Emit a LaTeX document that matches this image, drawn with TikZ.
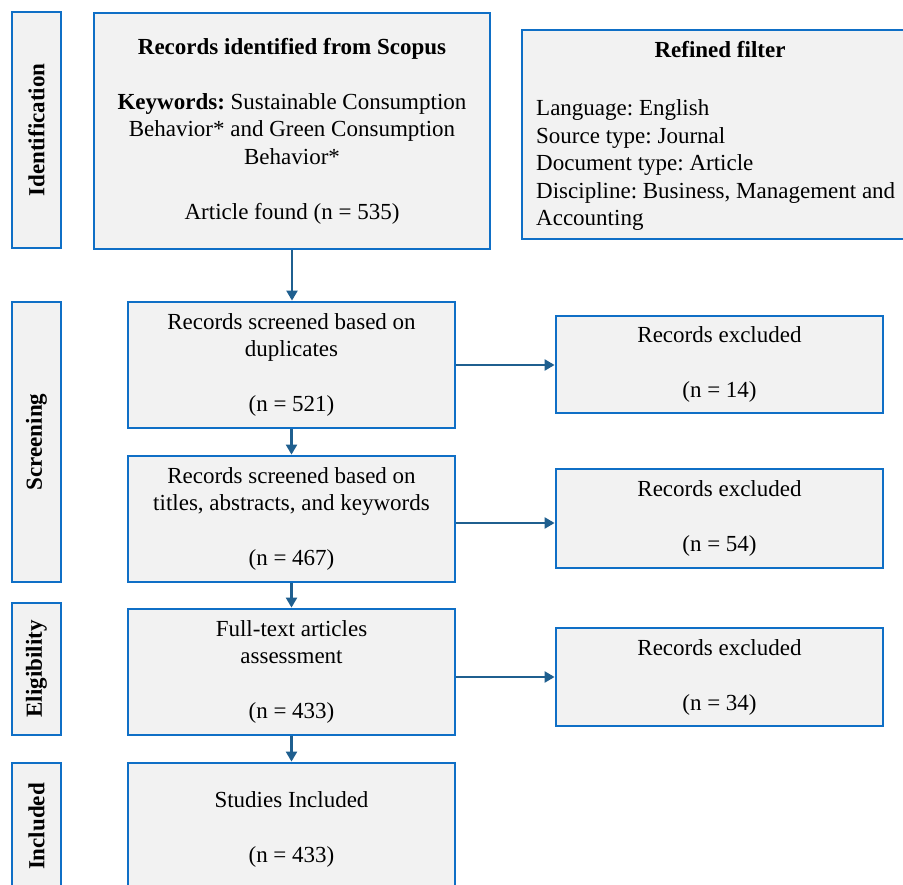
\documentclass[tikz,border=0pt]{standalone}
\usepackage{fontspec}
\setmainfont{Liberation Serif}
\usetikzlibrary{arrows.meta}
\definecolor{bordblue}{HTML}{0F6FC6}
\definecolor{arrblue}{HTML}{1F5F8F}
\definecolor{boxfill}{HTML}{F2F2F2}
\frenchspacing
\begin{document}
\begin{tikzpicture}[x=1pt,y=-1pt,
  box/.style={draw=bordblue, fill=boxfill, line width=2.8pt, inner sep=0pt, align=center, font=\fontsize{23}{27.5}\selectfont},
  stagebox/.style={box, font=\fontsize{23}{27.5}\selectfont\bfseries, rotate=90},
  arr/.style={draw=arrblue, line width=2.2pt, -{Triangle[length=10pt,width=11pt]}},
  txt/.style={inner sep=0pt, font=\fontsize{23}{27.5}\selectfont}]
\clip (0,0) rectangle (903,885);
\fill[white] (0,0) rectangle (903,885);
% stage labels
\node[stagebox, minimum width=236pt, minimum height=49pt] (sid) at (36.5,130) {Identification};
\node[stagebox, minimum width=280pt, minimum height=49pt] (sscr) at (36.5,442) {Screening};
\node[stagebox, minimum width=132pt, minimum height=49pt] (selig) at (36.5,669) {Eligibility};
\node[stagebox, minimum width=127pt, minimum height=49pt] (sinc) at (36.5,826.5) {Included};
% main flow
\node[box, minimum width=396pt, minimum height=236pt] (main) at (292,131)
  {{\bfseries Records identified from Scopus}\\[27.5pt]
   {\bfseries Keywords:} Sustainable Consumption\\
   Behavior* and Green Consumption\\
   Behavior*\\[27.5pt]
   Article found (n = 535)};
\node[box, minimum width=396pt, minimum height=209pt] (refined) at (720,134.5) {};
\node[txt, anchor=base, font=\fontsize{23}{27.5}\selectfont\bfseries] (reftitle) at (720,58) {Refined filter};
\node[txt, anchor=north west, align=left] (reflist) at (536,99.5)
  {Language: English\\
   Source type: Journal\\
   Document type: Article\\
   Discipline: Business, Management and\\
   Accounting};
\node[box, minimum width=327pt, minimum height=126pt] (b2) at (291.5,365)
  {Records screened based on\\ duplicates\\[27.5pt] (n = 521)};
\node[box, minimum width=327pt, minimum height=126pt] (b3) at (291.5,519)
  {Records screened based on\\ titles, abstracts, and keywords\\[27.5pt] (n = 467)};
\node[box, minimum width=327pt, minimum height=126pt] (b4) at (291.5,672)
  {Full-text articles\\ assessment\\[27.5pt] (n = 433)};
\node[box, minimum width=327pt, minimum height=132pt] (b5) at (291.5,829)
  {Studies Included\\[27.5pt] (n = 433)};
% excluded
\node[box, minimum width=327pt, minimum height=97pt] (e1) at (719.5,364.5)
  {Records excluded\\[27.5pt] (n = 14)};
\node[box, minimum width=327pt, minimum height=99pt] (e2) at (719.5,518.5)
  {Records excluded\\[27.5pt] (n = 54)};
\node[box, minimum width=327pt, minimum height=98pt] (e3) at (719.5,677)
  {Records excluded\\[27.5pt] (n = 34)};
% arrows
\draw[arr] (main.south) -- (main.south |- b2.north);
\draw[arr] (b2.south) -- (b3.north);
\draw[arr] (b3.south) -- (b4.north);
\draw[arr] (b4.south) -- (b5.north);
\draw[arr] (b2.east) -- (b2.east -| e1.west);
\draw[arr] ([yshift=-4pt]b3.east) -- ([yshift=-4pt]b3.east -| e2.west);
\draw[arr] (e3.west -| b4.east) -- (e3.west);
\end{tikzpicture}
\end{document}
